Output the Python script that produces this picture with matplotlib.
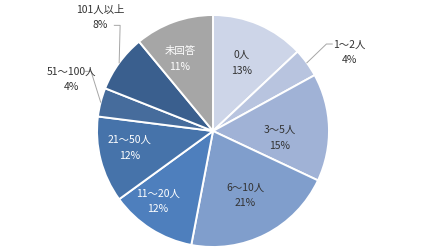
import matplotlib
matplotlib.use("Agg")
import matplotlib.pyplot as plt
import numpy as np

plt.rcParams['font.family'] = ['Noto Sans CJK JP', 'DejaVu Sans']

categories = ['0人', '1～2人', '3～5人', '6～10人', '11～20人', '21～50人', '51～100人', '101人以上', '未回答']
values = [13, 4, 15, 21, 12, 12, 4, 8, 11]
pct_labels = ['13%', '4%', '15%', '21%', '12%', '12%', '4%', '8%', '11%']

colors = ['#CDD5E8', '#B8C4DF', '#A0B2D6', '#809ECC', '#4E7FBD', '#4673AA', '#466C9C', '#3A5F8E', '#A6A6A6']
text_colors = ['#333333', '#333333', '#333333', '#333333', 'white', 'white', 'white', 'white', 'white']
# inside label placement (x, y in pie-radius units); None = outside label
inside = {0: (0.25, 0.586), 2: (0.578, -0.06), 3: (0.276, -0.556),
          4: (-0.474, -0.608), 5: (-0.716, -0.147), 8: (-0.284, 0.62)}
# outside label placement (angle in deg, radius)
outside = {1: (30.0, 1.36), 6: (160.0, 1.30), 7: (134.7, 1.38)}

fig = plt.figure(figsize=(4.21, 2.52), dpi=100)
ax = fig.add_axes([0.2304, 0.0198, 0.5511, 0.9206])
wedges, _ = ax.pie(values, colors=colors, startangle=90, counterclock=False,
                   wedgeprops=dict(edgecolor='white', linewidth=1.4))
ax.set_xlim(-1, 1)
ax.set_ylim(-1, 1)
ax.set_aspect('equal')
ax.axis('off')

fs = 7.5
for i, w in enumerate(wedges):
    mid = np.deg2rad((w.theta1 + w.theta2) / 2)
    text = categories[i] + '\n' + pct_labels[i]
    if i in inside:
        x, y = inside[i]
        ax.text(x, y, text, ha='center', va='center',
                fontsize=fs, color=text_colors[i], linespacing=1.7)
    else:
        ang, r = outside[i]
        a = np.deg2rad(ang)
        tx, ty = r * np.cos(a), r * np.sin(a)
        ax.text(tx, ty, text, ha='center', va='center', fontsize=fs,
                color='#333333', linespacing=1.7, clip_on=False)
        ex, ey = np.cos(mid), np.sin(mid)
        if tx > 0:
            sx, sy = tx - 0.15, ty + 0.07
            ax.plot([sx, sx - 0.05, ex], [sy, sy, ey], color='#A6A6A6', lw=0.7, clip_on=False)
        else:
            sx, sy = tx + 0.12, ty - 0.07 if i == 7 else ty + 0.07
            ax.plot([sx, sx + 0.05, ex], [sy, sy, ey], color='#A6A6A6', lw=0.7, clip_on=False)

fig.savefig('out.png', dpi=100)
